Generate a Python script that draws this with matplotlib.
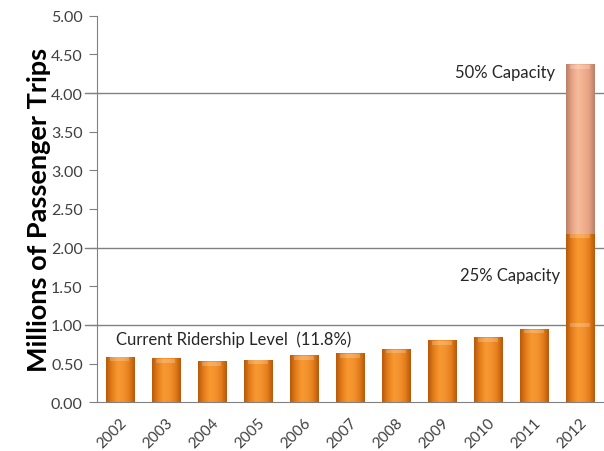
import matplotlib
matplotlib.use("Agg")
import matplotlib.pyplot as plt
import numpy as np
from matplotlib.colors import LinearSegmentedColormap

years = ["2002", "2003", "2004", "2005", "2006", "2007", "2008", "2009", "2010", "2011", "2012"]
ridership = [0.59, 0.57, 0.53, 0.55, 0.61, 0.63, 0.69, 0.80, 0.84, 0.95, 1.03]
capacity_25 = 2.18   # total height at 25% capacity (2012)
capacity_50 = 4.37   # total height at 50% capacity (2012)
grid_levels = [1.0, 2.0, 4.0]
yticks = [0.0, 0.5, 1.0, 1.5, 2.0, 2.5, 3.0, 3.5, 4.0, 4.5, 5.0]

plt.rcParams['font.family'] = ['Lato', 'DejaVu Sans']

fig = plt.figure(figsize=(6.04, 4.52), dpi=100)
ax = fig.add_axes([0.160, 0.108, 0.838, 0.855])

x = np.arange(len(years))
width = 0.61

orange_cmap = LinearSegmentedColormap.from_list(
    "o", ["#B85A0C", "#E57E1C", "#F7982F", "#F39330", "#E57E1C", "#B85A0C"])
salmon_cmap = LinearSegmentedColormap.from_list(
    "s", ["#B98068", "#E6A384", "#F6BC9C", "#F2B090", "#E6A384", "#B98068"])

def gradient_bars(bars, cmap):
    grad = np.linspace(0, 1, 64).reshape(1, -1)
    for b in bars:
        x0, y0 = b.get_x(), b.get_y()
        w, h = b.get_width(), b.get_height()
        im = ax.imshow(grad, cmap=cmap, aspect='auto',
                       extent=[x0, x0 + w, y0, y0 + h], zorder=3)
        im.set_clip_path(b)
        # top bevel highlight
        ax.fill_between([x0 + w * 0.15, x0 + w * 0.85], y0 + h - 0.06, y0 + h - 0.01,
                        color='white', alpha=0.22, lw=0, zorder=4)

bars1 = ax.bar(x, ridership, width, color='#E8841F', edgecolor='none', zorder=3)
gradient_bars(bars1, orange_cmap)

seg2 = ax.bar(x[-1:], [capacity_25 - ridership[-1]], width, bottom=[ridership[-1]],
              color='#E8841F', edgecolor='none', zorder=3)
gradient_bars(seg2, orange_cmap)

seg3 = ax.bar(x[-1:], [capacity_50 - capacity_25], width, bottom=[capacity_25],
              color='#E6A384', edgecolor='none', zorder=3)
gradient_bars(seg3, salmon_cmap)

for g in grid_levels:
    ax.plot([-0.75, 10.5], [g, g], color='#808080', lw=1.0, zorder=1, clip_on=False)

ax.set_xlim(-0.5, 10.5)
ax.set_ylim(0, 5)
ax.set_yticks(yticks)
ax.set_yticklabels([f"{v:.2f}" for v in yticks], fontsize=11.5, color='#404040')
ax.set_xticks(x)
ax.set_xticklabels(years, rotation=45, fontsize=11, color='#404040', ha='right',
                   rotation_mode='anchor')
ax.tick_params(axis='x', length=0, pad=9)
ax.tick_params(axis='y', length=6, color='#808080', pad=4)

for s in ['top', 'right']:
    ax.spines[s].set_visible(False)
ax.spines['left'].set_color('#808080')
ax.spines['bottom'].set_color('#808080')

ax.set_ylabel("Millions of Passenger Trips", fontsize=19.5, fontweight='bold', labelpad=0)

ax.text(-0.09, 0.82, "Current Ridership Level  (11.8%)", fontsize=12, color='#262626',
        ha='left', va='center')
ax.text(9.58, 1.64, "25% Capacity", fontsize=12, color='#262626', ha='right', va='center')
ax.text(9.47, 4.27, "50% Capacity", fontsize=12, color='#262626', ha='right', va='center')

fig.savefig("out.png", dpi=100)
